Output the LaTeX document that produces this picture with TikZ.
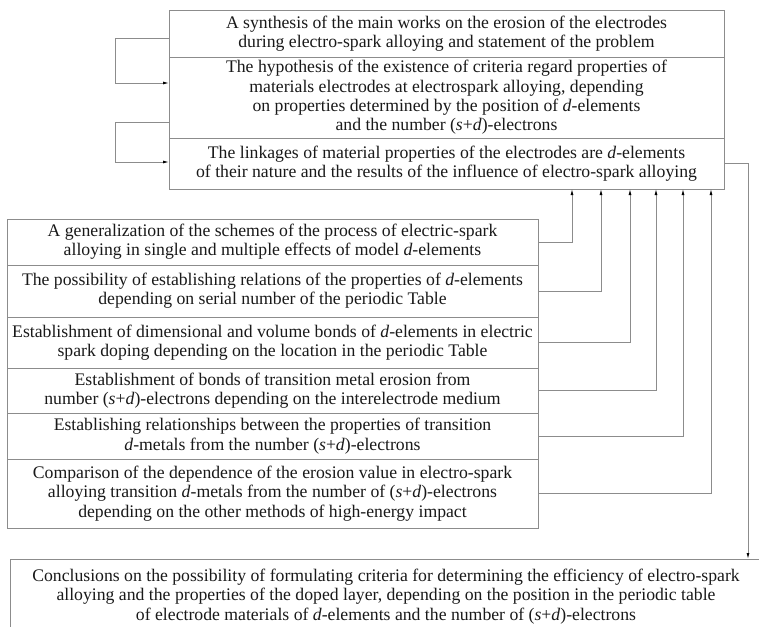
\documentclass[tikz,border=0pt]{standalone}
\usepackage{fontspec}
\setmainfont{Liberation Serif}
\usetikzlibrary{arrows.meta,calc}
\begin{document}
\begin{tikzpicture}[x=1pt,y=-1pt,
  every node/.style={inner sep=0pt,outer sep=0pt},
  box/.style={draw=black!45,line width=0.9pt,align=center,anchor=north west,
    font=\fontsize{17.7}{19.3}\selectfont,text=black!90},
  conn/.style={draw=black!45,line width=0.9pt},
  arr/.style={conn,-{Latex[length=6pt,width=3pt,color=black]}}]
\useasboundingbox (0,0) rectangle (759,626);
% top stack
\node[box,minimum width=555pt,minimum height=47pt] (b1) at (169,10)
  {A synthesis of the main works on the erosion of the electrodes\\
   during electro-spark alloying and statement of the problem};
\node[box,minimum width=555pt,minimum height=81pt] (b2) at (169,57)
  {The hypothesis of the existence of criteria regard properties of\\
   materials electrodes at electrospark alloying, depending\\
   on properties determined by the position of \textit{d}-elements\\
   and the number (\textit{s}+\textit{d})-electrons};
\node[box,minimum width=555pt,minimum height=51pt] (b3) at (169,138)
  {The linkages of material properties of the electrodes are \textit{d}-elements\\
   of their nature and the results of the influence of electro-spark alloying};
% left stack
\node[box,minimum width=531pt,minimum height=46pt] (s1) at (7,219)
  {A generalization of the schemes of the process of electric-spark\\
   alloying in single and multiple effects of model \textit{d}-elements};
\node[box,minimum width=531pt,minimum height=52pt] (s2) at (7,265)
  {The possibility of establishing relations of the properties of \textit{d}-elements\\
   depending on serial number of the periodic Table};
\node[box,minimum width=531pt,minimum height=51pt] (s3) at (7,317)
  {Establishment of dimensional and volume bonds of \textit{d}-elements in electric\\
   spark doping depending on the location in the periodic Table};
\node[box,minimum width=531pt,minimum height=45pt] (s4) at (7,368)
  {Establishment of bonds of transition metal erosion from\\
   number (\textit{s}+\textit{d})-electrons depending on the interelectrode medium};
\node[box,minimum width=531pt,minimum height=46pt] (s5) at (7,413)
  {Establishing relationships between the properties of transition\\
   \textit{d}-metals from the number (\textit{s}+\textit{d})-electrons};
\node[box,minimum width=531pt,minimum height=69pt] (s6) at (7,459)
  {Comparison of the dependence of the erosion value in electro-spark\\
   alloying transition \textit{d}-metals from the number of (\textit{s}+\textit{d})-electrons\\
   depending on the other methods of high-energy impact};
% bottom
\node[box,minimum width=752pt,minimum height=80pt] (bot) at (10,559) {};
\node[anchor=north,align=center,font=\fontsize{17.7}{19.3}\selectfont,text=black!90] (bott)
  at ($(bot.north)+(0,10)$)
  {Conclusions on the possibility of formulating criteria for determining the efficiency of electro-spark\\
   alloying and the properties of the doped layer, depending on the position in the periodic table\\
   of electrode materials of \textit{d}-elements and the number of (\textit{s}+\textit{d})-electrons};
% left loops
\coordinate (l1) at (115,38);
\coordinate (l2) at (115,122);
\draw[arr] ($(b1.north west)+(0,28)$) -- (l1) |- ($(b2.north west)+(0,26)$);
\draw[arr] ($(b2.north west)+(0,65)$) -- (l2) |- ($(b3.north west)+(0,24)$);
% right connectors
\draw[arr] (s1.east) -| ($(b3.south west)+(403,0)$);
\draw[arr] (s2.east) -| ($(b3.south west)+(432,0)$);
\draw[arr] (s3.east) -| ($(b3.south west)+(461,0)$);
\draw[arr] (s4.east) -| ($(b3.south west)+(487,0)$);
\draw[arr] (s5.east) -| ($(b3.south west)+(514,0)$);
\draw[arr] (s6.east) -| ($(b3.south west)+(542,0)$);
\draw[arr] (b3.east) -| ($(bot.north west)+(738,0)$);
\end{tikzpicture}
\end{document}
